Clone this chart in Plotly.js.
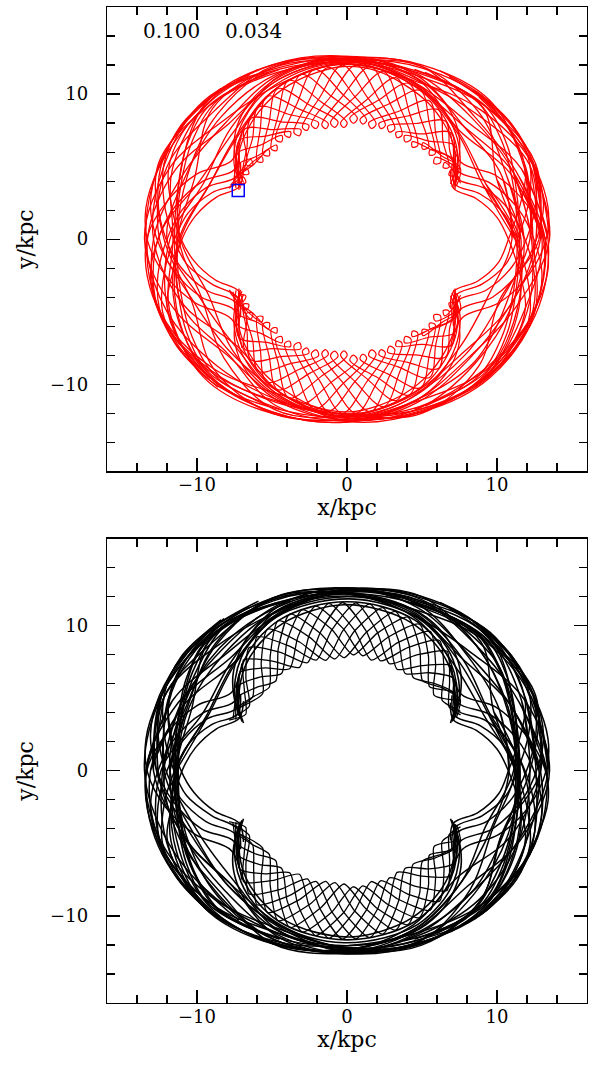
<!DOCTYPE html>
<html>
<head>
<meta charset="utf-8">
<script src="https://cdn.plot.ly/plotly-3.0.1.min.js"></script>
<style>
html,body{margin:0;padding:0;background:#fff}
#chart{width:592px;height:1069px}
</style>
</head>
<body>
<div id="chart"></div>
<script>
// Orbit polylines in kpc. Each entry is one stroke: [x0, y0, x1, y1, ...].

// ---- upper panel (red orbit) ----
const redRings = [
  [11.2,0, 9.06,3.75, 7.35,7.35, 4.44,10.72, 0,12.1, -4.83,11.64, -9.47,9.47, -12.47,5.17, -13.4,0, -12.01,-4.98, -8.70,-8.70, -4.60,-11.09, 0,-12.2, 4.86,-11.73, 9.33,-9.33, 11.46,-4.75, 11.2,0, 9.06,3.75],
  [13.5,0, 12.38,5.13, 8.91,8.91, 4.52,10.90, 0,12.1, -4.40,10.63, -7.28,7.28, -9.15,3.79, -11.1,0, -11.37,-4.71, -9.33,-9.33, -4.94,-11.92, 0,-12.6, 4.60,-11.09, 8.13,-8.13, 11.27,-4.67, 13.5,0, 12.38,5.13],
  [12.4,0, 11.83,4.90, 9.54,9.54, 4.98,12.01, 0,12.5, -4.71,11.37, -8.41,8.41, -10.72,4.44, -12.0,0, -9.79,-4.06, -7.42,-7.42, -4.48,-10.81, 0,-12.3, 4.94,-11.92, 9.54,-9.54, 12.47,-5.17, 12.4,0, 11.83,4.90],
  [11.0,0, 10.35,4.29, 7.78,7.78, 4.67,11.27, 0,12.6, -4.98,12.01, -9.33,9.33, -11.64,4.83, -11.6,0, -11.83,-4.90, -9.54,-9.54, -4.98,-12.01, 0,-12.4, 4.48,-10.81, 7.49,-7.49, 9.42,-3.91, 11.0,0, 10.35,4.29],
  [13.2,0, 11.27,4.67, 8.48,8.48, 4.94,11.92, 0,12.4, -4.56,11.00, -7.92,7.92, -11.46,4.75, -13.3,0, -12.38,-5.13, -8.91,-8.91, -4.44,-10.72, 0,-12.1, 4.79,-11.55, 9.05,-9.05, 12.38,-5.13, 13.2,0, 11.27,4.67],
  [11.6,0, 9.98,4.14, 9.05,9.05, 4.75,11.46, 0,12.3, -4.90,11.83, -8.98,8.98, -10.16,4.21, -11.3,0, -11.00,-4.56, -7.92,-7.92, -4.75,-11.46, 0,-12.5, 4.60,-11.09, 8.48,-8.48, 10.63,-4.40, 11.6,0, 9.98,4.14],
  [12.8,0, 12.57,5.21, 9.19,9.19, 4.67,11.27, 0,12.5, -4.63,11.18, -7.49,7.49, -9.79,4.06, -12.6,0, -12.47,-5.17, -9.05,-9.05, -4.67,-11.27, 0,-12.1, 4.98,-12.01, 8.77,-8.77, 10.16,-4.21, 12.8,0, 12.57,5.21],
  [13.0,0, 11.09,4.60, 7.78,7.78, 4.40,10.63, 0,12.3, -4.94,11.92, -8.84,8.84, -12.01,4.98, -12.5,0, -10.26,-4.25, -7.78,-7.78, -4.40,-10.63, 0,-12.55, 4.94,-11.92, 9.33,-9.33, 11.83,-4.90, 13.0,0, 11.09,4.60],
  [12.2,0, 11.92,4.94, 9.40,9.40, 4.90,11.83, 0,12.3, -4.56,11.00, -7.71,7.71, -9.52,3.94, -11.8,0, -11.92,-4.94, -9.47,-9.47, -4.83,-11.64, 0,-12.2, 4.44,-10.72, 7.92,-7.92, 10.26,-4.25, 12.2,0, 11.92,4.94],
  [13.4,0, 11.64,4.83, 8.06,8.06, 4.48,10.81, 0,12.45, -4.86,11.73, -9.54,9.54, -12.20,5.06, -12.9,0, -10.90,-4.52, -7.35,-7.35, -4.40,-10.63, 0,-12.35, 4.90,-11.83, 9.40,-9.40, 12.57,-5.21, 13.4,0, 11.64,4.83],
  [11.8,0, 10.63,4.40, 8.77,8.77, 4.94,11.92, 0,12.2, -4.44,10.72, -8.20,8.20, -11.83,4.90, -13.5,0, -11.55,-4.79, -7.99,-7.99, -4.56,-11.00, 0,-12.5, 4.83,-11.64, 8.55,-8.55, 11.00,-4.56, 11.8,0, 10.63,4.40],
  [12.6,0, 12.20,5.06, 8.63,8.63, 4.56,11.00, 0,12.55, -4.90,11.83, -8.63,8.63, -10.63,4.40, -11.2,0, -9.70,-4.02, -8.20,-8.20, -4.86,-11.73, 0,-12.2, 4.40,-10.63, 7.78,-7.78, 10.90,-4.52, 12.6,0, 12.20,5.06],
  [13.1,0, 10.90,4.52, 7.49,7.49, 4.60,11.09, 0,12.2, -4.75,11.46, -9.19,9.19, -12.57,5.21, -12.2,0, -10.35,-4.29, -8.91,-8.91, -4.98,-12.01, 0,-12.4, 4.63,-11.18, 9.12,-9.12, 12.38,-5.13, 13.1,0, 10.90,4.52],
  [11.4,0, 9.24,3.83, 7.42,7.42, 4.48,10.81, 0,12.4, -4.98,12.01, -9.40,9.40, -11.09,4.60, -11.1,0, -9.24,-3.83, -7.64,-7.64, -4.52,-10.90, 0,-12.3, 4.94,-11.92, 9.26,-9.26, 11.37,-4.71, 11.4,0, 9.24,3.83],
  [12.9,0, 12.38,5.13, 9.19,9.19, 4.79,11.55, 0,12.2, -4.40,10.63, -7.21,7.21, -9.15,3.79, -11.2,0, -11.46,-4.75, -9.26,-9.26, -4.94,-11.92, 0,-12.6, 4.67,-11.27, 8.20,-8.20, 10.90,-4.52, 12.9,0, 12.38,5.13],
  [12.3,0, 11.09,4.60, 8.34,8.34, 4.71,11.37, 0,12.6, -4.67,11.27, -8.06,8.06, -10.90,4.52, -12.9,0, -12.47,-5.17, -9.12,-9.12, -4.63,-11.18, 0,-12.05, 4.86,-11.73, 9.47,-9.47, 12.01,-4.98, 12.3,0, 11.09,4.60]
];

const redSideArcs = [
  [-4.5,11.7, -8.6,9.6, -10.3,6.8, -11.1,3.6, -11.35,0, -11.1,-3.6, -10.3,-6.8, -8.6,-9.6, -4.5,-11.7],
  [-5.2,11.5, -9.2,9.2, -10.7,6.4, -11.3,3.3, -11.5,0.1, -11.3,-3.3, -10.7,-6.4, -9.2,-9.2, -5.2,-11.5],
  [4.5,11.7, 8.6,9.6, 10.3,6.8, 11.1,3.6, 11.35,0, 11.1,-3.6, 10.3,-6.8, 8.6,-9.6, 4.5,-11.7],
  [5.2,11.5, 9.2,9.2, 10.7,6.4, 11.3,3.3, 11.5,-0.1, 11.3,-3.3, 10.7,-6.4, 9.2,-9.2, 5.2,-11.5]
];

const redCaustics = [
  [-7.1,3.5, -7.35,4.8, -7.3,6.4, -6.7,8.0, -5.6,9.6, -4.1,10.8, -2.2,11.7, 0,12.05, 2.2,11.7, 4.1,10.8, 5.6,9.6, 6.7,8.0, 7.3,6.4, 7.35,4.8, 7.1,3.5],
  [-7.0,3.7, -7.5,5.0, -7.45,6.6, -6.9,8.2, -5.8,9.8, -4.2,11.0, -2.2,11.85, 0.3,12.2, 2.4,11.8, 4.3,10.9, 5.8,9.7, 6.9,8.1, 7.45,6.5, 7.5,4.9, 7.0,3.6],
  [-7.2,3.4, -7.25,4.6, -7.15,6.2, -6.5,7.8, -5.4,9.35, -3.9,10.6, -2.0,11.5, -0.2,11.9, 2.0,11.6, 3.9,10.6, 5.4,9.4, 6.5,7.9, 7.15,6.3, 7.25,4.7, 7.2,3.4],
  [-6.9,3.9, -7.4,5.4, -7.5,7.0, -7.0,8.6, -5.9,10.1, -4.3,11.3, -2.3,12.1, 0,12.4, 2.5,12.05, 4.5,11.2, 6.0,10.0, 7.05,8.5, 7.5,6.9, 7.4,5.3, 6.9,3.8],
  [-7.1,-3.5, -7.35,-4.8, -7.3,-6.4, -6.7,-8.0, -5.6,-9.6, -4.1,-10.8, -2.2,-11.7, 0,-12.05, 2.2,-11.7, 4.1,-10.8, 5.6,-9.6, 6.7,-8.0, 7.3,-6.4, 7.35,-4.8, 7.1,-3.5],
  [-7.0,-3.6, -7.5,-4.9, -7.45,-6.5, -6.9,-8.1, -5.8,-9.7, -4.3,-10.9, -2.4,-11.8, -0.3,-12.2, 2.2,-11.85, 4.2,-11.0, 5.8,-9.8, 6.9,-8.2, 7.45,-6.6, 7.5,-5.0, 7.0,-3.7],
  [-7.2,-3.4, -7.25,-4.7, -7.15,-6.3, -6.5,-7.9, -5.4,-9.4, -3.9,-10.6, -2.0,-11.6, 0.2,-11.9, 2.0,-11.5, 3.9,-10.6, 5.4,-9.35, 6.5,-7.8, 7.15,-6.2, 7.25,-4.6, 7.2,-3.4],
  [-6.9,-3.8, -7.4,-5.3, -7.5,-6.9, -7.05,-8.5, -6.0,-10.0, -4.5,-11.2, -2.5,-12.05, 0,-12.4, 2.3,-12.1, 4.3,-11.3, 5.9,-10.1, 7.0,-8.6, 7.5,-7.0, 7.4,-5.4, 6.9,-3.9]
];

// epicycle strands with retrograde loops at pericentre
const redLoopStrands = [
  [-7.86,3.50, -6.93,4.29, -6.75,3.90, -7.18,3.86, -6.68,5.41, -6.82,7.58, -4.91,7.55, -3.08,7.55, -3.17,7.13, -3.54,7.35, -2.55,9.52, -1.25,11.84, 0.51,9.84, 1.94,7.92, 1.62,7.63, 1.45,8.02, 3.37,8.78, 5.50,9.53, 5.91,7.30, 6.23,5.27, 5.80,5.22, 5.89,5.64, 7.47,4.85],
  [-7.36,4.25, -6.41,5.50, -6.29,5.09, -6.72,5.13, -6.29,6.98, -5.91,9.10, -3.83,8.59, -1.90,8.03, -2.05,7.63, -2.38,7.90, -1.04,9.90, 0.62,11.99, 2.07,9.73, 3.19,7.62, 2.83,7.38, 2.72,7.80, 4.60,7.97, 6.57,8.12, 6.84,6.15, 7.23,4.39, 6.80,4.41, 6.96,4.81, 7.57,3.86],
  [-7.45,4.30, -6.29,5.09, -5.23,6.19, -5.18,5.76, -5.60,5.85, -5.20,8.01, -4.62,10.37, -2.47,9.23, -0.60,8.08, -0.81,7.71, -1.10,8.03, 0.51,9.79, 2.45,11.54, 3.51,9.15, 4.27,6.89, 3.88,6.71, 3.84,7.14, 5.47,6.76, 7.17,6.46, 7.38,4.80, 7.22,3.68],
  [-7.19,4.15, -7.30,5.91, -5.82,6.46, -4.34,7.14, -4.36,6.71, -4.76,6.87, -4.03,9.05, -3.04,11.35, -1.04,9.85, 0.69,8.33, 0.42,7.99, 0.19,8.35, 2.03,9.54, 4.12,10.74, 4.88,8.44, 5.44,6.33, 5.03,6.22, 5.06,6.65, 6.35,5.72, 7.55,4.91, 7.31,3.72],
  [-7.77,3.71, -6.67,4.85, -6.55,4.50, -6.92,4.49, -6.67,6.33, -6.39,8.33, -4.39,8.09, -2.55,7.86, -2.66,7.50, -2.97,7.71, -1.81,9.78, -0.31,12.0, 1.30,9.86, 2.56,7.85, 2.26,7.62, 2.13,7.97, 4.05,8.49, 6.11,8.90, 6.40,6.74, 6.79,4.94, 6.42,4.93, 6.52,5.29, 7.56,4.10],
  [-7.40,3.53, -7.37,5.07, -6.02,5.71, -4.70,6.48, -4.69,6.11, -5.05,6.21, -4.60,8.48, -3.87,10.94, -1.76,9.49, 0.01,8.01, -0.20,7.70, -0.43,7.99, 1.26,9.56, 3.29,11.12, 4.16,8.71, 4.71,6.46, 4.36,6.34, 4.35,6.71, 5.78,6.09, 7.14,5.48, 7.21,3.91],
  [-7.59,3.62, -7.42,5.09, -7.18,6.81, -5.45,7.10, -3.77,7.40, -3.82,7.03, -4.16,7.19, -3.32,9.38, -2.17,11.70, -0.26,9.95, 1.31,8.20, 1.05,7.93, 0.87,8.26, 2.75,9.30, 4.89,10.25, 5.49,7.99, 5.87,5.87, 5.50,5.80, 5.55,6.17, 7.06,5.42, 7.30,3.96],
  [-7.36,4.25, -5.69,5.70, -5.62,5.33, -5.99,5.38, -5.79,7.53, -5.34,9.84, -3.17,8.96, -1.25,7.96, -1.41,7.62, -1.68,7.88, -0.26,9.90, 1.57,11.89, 2.81,9.49, 3.67,7.18, 3.34,7.00, 3.27,7.37, 4.98,7.25, 6.95,7.32, 7.14,5.48, 7.12,3.86],
  [-7.86,-3.50, -6.93,-4.29, -6.75,-3.90, -7.18,-3.86, -6.68,-5.41, -6.82,-7.58, -4.91,-7.55, -3.08,-7.55, -3.17,-7.13, -3.54,-7.35, -2.55,-9.52, -1.25,-11.84, 0.51,-9.84, 1.94,-7.92, 1.62,-7.63, 1.45,-8.02, 3.37,-8.78, 5.50,-9.53, 5.91,-7.30, 6.23,-5.27, 5.80,-5.22, 5.89,-5.64, 7.47,-4.85],
  [-7.36,-4.25, -6.41,-5.50, -6.29,-5.09, -6.72,-5.13, -6.29,-6.98, -5.91,-9.10, -3.83,-8.59, -1.90,-8.03, -2.05,-7.63, -2.38,-7.90, -1.04,-9.90, 0.62,-11.99, 2.07,-9.73, 3.19,-7.62, 2.83,-7.38, 2.72,-7.80, 4.60,-7.97, 6.57,-8.12, 6.84,-6.15, 7.23,-4.39, 6.80,-4.41, 6.96,-4.81, 7.57,-3.86],
  [-7.45,-4.30, -6.29,-5.09, -5.23,-6.19, -5.18,-5.76, -5.60,-5.85, -5.20,-8.01, -4.62,-10.37, -2.47,-9.23, -0.60,-8.08, -0.81,-7.71, -1.10,-8.03, 0.51,-9.79, 2.45,-11.54, 3.51,-9.15, 4.27,-6.89, 3.88,-6.71, 3.84,-7.14, 5.47,-6.76, 7.17,-6.46, 7.38,-4.80, 7.22,-3.68],
  [-7.19,-4.15, -7.30,-5.91, -5.82,-6.46, -4.34,-7.14, -4.36,-6.71, -4.76,-6.87, -4.03,-9.05, -3.04,-11.35, -1.04,-9.85, 0.69,-8.33, 0.42,-7.99, 0.19,-8.35, 2.03,-9.54, 4.12,-10.74, 4.88,-8.44, 5.44,-6.33, 5.03,-6.22, 5.06,-6.65, 6.35,-5.72, 7.55,-4.91, 7.31,-3.72],
  [-7.77,-3.71, -6.67,-4.85, -6.55,-4.50, -6.92,-4.49, -6.67,-6.33, -6.39,-8.33, -4.39,-8.09, -2.55,-7.86, -2.66,-7.50, -2.97,-7.71, -1.81,-9.78, -0.31,-12.0, 1.30,-9.86, 2.56,-7.85, 2.26,-7.62, 2.13,-7.97, 4.05,-8.49, 6.11,-8.90, 6.40,-6.74, 6.79,-4.94, 6.42,-4.93, 6.52,-5.29, 7.56,-4.10],
  [-7.40,-3.53, -7.37,-5.07, -6.02,-5.71, -4.70,-6.48, -4.69,-6.11, -5.05,-6.21, -4.60,-8.48, -3.87,-10.94, -1.76,-9.49, 0.01,-8.01, -0.20,-7.70, -0.43,-7.99, 1.26,-9.56, 3.29,-11.12, 4.16,-8.71, 4.71,-6.46, 4.36,-6.34, 4.35,-6.71, 5.78,-6.09, 7.14,-5.48, 7.21,-3.91],
  [-7.59,-3.62, -7.42,-5.09, -7.18,-6.81, -5.45,-7.10, -3.77,-7.40, -3.82,-7.03, -4.16,-7.19, -3.32,-9.38, -2.17,-11.70, -0.26,-9.95, 1.31,-8.20, 1.05,-7.93, 0.87,-8.26, 2.75,-9.30, 4.89,-10.25, 5.49,-7.99, 5.87,-5.87, 5.50,-5.80, 5.55,-6.17, 7.06,-5.42, 7.30,-3.96],
  [-7.36,-4.25, -5.69,-5.70, -5.62,-5.33, -5.99,-5.38, -5.79,-7.53, -5.34,-9.84, -3.17,-8.96, -1.25,-7.96, -1.41,-7.62, -1.68,-7.88, -0.26,-9.90, 1.57,-11.89, 2.81,-9.49, 3.67,-7.18, 3.34,-7.00, 3.27,-7.37, 4.98,-7.25, 6.95,-7.32, 7.14,-5.48, 7.12,-3.86]
];

// arcs leaving the four cusps and sweeping round the ends of the ring (both panels)
const cuspArcs = [
  [-6.9,4.8, -7.2,3.6, -8.7,2.9, -10.1,1.6, -11.0,0, -11.6,-2.2, -12.0,-4.6, -11.2,-7.0, -9.3,-9.4, -7.0,-11.0],
  [-7.1,5.3, -7.3,3.9, -9.0,3.2, -10.6,1.8, -11.5,0, -12.2,-2.4, -12.3,-5.0, -11.2,-7.4, -9.1,-9.6],
  [-7.2,5.9, -7.4,4.3, -9.3,3.6, -11.0,2.0, -12.0,0, -12.6,-2.4, -12.5,-4.8, -11.4,-7.3, -9.3,-9.6],
  [-7.2,6.6, -7.5,4.8, -9.6,4.0, -11.5,2.2, -12.6,0, -13.1,-2.4, -12.6,-4.9, -11.0,-7.8, -8.6,-10.2],
  [-7.0,7.4, -7.7,5.4, -10.0,4.5, -12.0,2.6, -13.3,0.2, -13.4,-2.0, -12.7,-4.6, -11.3,-7.0, -9.2,-9.5],
  [-6.9,-4.9, -7.2,-3.6, -8.8,-2.8, -10.2,-1.5, -11.1,0.1, -11.7,2.3, -11.9,4.8, -11.0,7.3, -9.0,9.6, -6.5,11.3],
  [-7.1,-5.4, -7.3,-4.0, -9.0,-3.1, -10.7,-1.7, -11.6,0.2, -12.2,2.6, -12.2,5.2, -11.1,7.8, -8.8,10.0, -5.9,11.7],
  [-7.2,-6.0, -7.4,-4.4, -9.4,-3.5, -11.1,-1.9, -12.1,0.1, -12.6,2.6, -12.3,5.4, -10.9,8.0, -8.4,10.4],
  [-7.2,-6.7, -7.5,-4.9, -9.7,-4.0, -11.6,-2.1, -12.7,0.1, -13.1,2.5, -12.5,5.2, -10.8,8.0, -8.2,10.5],
  [-7.0,-7.5, -7.7,-5.5, -10.1,-4.4, -12.1,-2.5, -13.3,-0.1, -13.4,2.2, -12.6,4.8, -11.0,7.4, -8.8,9.8],
  [6.9,4.7, 7.1,3.5, 8.6,2.8, 10.0,1.5, 10.8,-0.1, 11.5,-2.3, 11.9,-4.7, 11.1,-7.1, 9.2,-9.5, 6.9,-11.1],
  [7.0,5.2, 7.2,3.8, 8.9,3.1, 10.5,1.7, 11.3,-0.1, 12.0,-2.5, 12.2,-5.1, 11.3,-7.5, 9.2,-9.7],
  [7.1,5.8, 7.3,4.2, 9.2,3.5, 10.9,1.9, 11.9,-0.1, 12.5,-2.5, 12.4,-4.9, 11.3,-7.3, 9.2,-9.6],
  [7.1,6.5, 7.4,4.7, 9.5,3.9, 11.4,2.1, 12.5,-0.1, 13.0,-2.5, 12.5,-5.0, 10.9,-7.9, 8.5,-10.2],
  [6.9,7.3, 7.6,5.3, 9.9,4.4, 11.9,2.5, 13.2,0.1, 13.4,-2.1, 12.6,-4.7, 11.2,-7.2, 9.1,-9.6],
  [6.9,-4.8, 7.1,-3.6, 8.7,-2.9, 10.1,-1.6, 10.8,0.1, 11.5,2.2, 11.9,4.6, 11.1,7.1, 9.2,9.5, 6.8,11.2],
  [7.0,-5.4, 7.2,-3.9, 9.0,-3.1, 10.6,-1.7, 11.4,0.1, 12.1,2.5, 12.2,5.1, 11.2,7.6, 9.0,9.9, 6.2,11.6],
  [7.1,-6.0, 7.3,-4.3, 9.3,-3.5, 11.0,-1.9, 12.0,0.1, 12.6,2.6, 12.4,5.2, 11.0,7.9, 8.6,10.2],
  [7.1,-6.7, 7.5,-4.9, 9.7,-4.0, 11.6,-2.1, 12.7,0.2, 13.1,2.5, 12.5,5.1, 10.9,7.9, 8.4,10.3],
  [6.9,-7.4, 7.7,-5.4, 10.1,-4.4, 12.1,-2.5, 13.3,0.1, 13.4,2.2, 12.6,4.8, 11.0,7.4, 8.8,9.8]
];

// ---- lower panel (black orbit) ----
const blackRings = [
  [11.3,0, 9.42,3.91, 7.49,7.49, 4.52,10.90, 0,12.2, -4.79,11.55, -9.40,9.40, -12.38,5.13, -13.5,0, -11.92,-4.94, -8.77,-8.77, -4.63,-11.18, 0,-12.3, 4.90,-11.83, 9.26,-9.26, 11.37,-4.71, 11.3,0, 9.42,3.91],
  [13.4,0, 12.29,5.09, 9.05,9.05, 4.60,11.09, 0,12.0, -4.48,10.81, -7.49,7.49, -9.33,3.87, -11.4,0, -11.55,-4.79, -9.40,-9.40, -4.90,-11.83, 0,-12.5, 4.67,-11.27, 8.34,-8.34, 11.46,-4.75, 13.4,0, 12.29,5.09],
  [12.6,0, 11.92,4.94, 9.47,9.47, 4.94,11.92, 0,12.5, -4.67,11.27, -8.48,8.48, -10.90,4.52, -11.8,0, -9.98,-4.14, -7.56,-7.56, -4.56,-11.00, 0,-12.4, 4.90,-11.83, 9.47,-9.47, 12.29,-5.09, 12.6,0, 11.92,4.94],
  [10.8,0, 10.16,4.21, 7.99,7.99, 4.75,11.46, 0,12.6, -4.94,11.92, -9.26,9.26, -11.83,4.90, -11.5,0, -11.73,-4.86, -9.47,-9.47, -4.94,-11.92, 0,-12.3, 4.52,-10.90, 7.64,-7.64, 9.61,-3.98, 10.8,0, 10.16,4.21],
  [13.3,0, 11.46,4.75, 8.63,8.63, 4.86,11.73, 0,12.3, -4.52,10.90, -7.78,7.78, -11.27,4.67, -13.4,0, -12.29,-5.09, -8.84,-8.84, -4.52,-10.90, 0,-12.2, 4.83,-11.64, 9.12,-9.12, 12.47,-5.17, 13.3,0, 11.46,4.75],
  [11.5,0, 9.79,4.06, 8.91,8.91, 4.79,11.55, 0,12.4, -4.86,11.73, -9.12,9.12, -10.35,4.29, -11.4,0, -10.81,-4.48, -7.78,-7.78, -4.71,-11.37, 0,-12.6, 4.63,-11.18, 8.34,-8.34, 10.44,-4.33, 11.5,0, 9.79,4.06],
  [12.9,0, 12.47,5.17, 9.12,9.12, 4.71,11.37, 0,12.6, -4.67,11.27, -7.64,7.64, -9.61,3.98, -12.4,0, -12.38,-5.13, -9.12,-9.12, -4.75,-11.46, 0,-12.2, 4.94,-11.92, 8.91,-8.91, 10.35,-4.29, 12.9,0, 12.47,5.17],
  [12.8,0, 10.90,4.52, 7.71,7.71, 4.48,10.81, 0,12.2, -4.90,11.83, -8.91,8.91, -12.20,5.06, -12.7,0, -10.44,-4.33, -7.92,-7.92, -4.48,-10.81, 0,-12.5, 4.90,-11.83, 9.40,-9.40, 11.92,-4.94, 12.8,0, 10.90,4.52],
  [12.2,0, 11.64,4.83, 9.33,9.33, 4.83,11.64, 0,12.45, -4.60,11.09, -8.13,8.13, -10.53,4.37, -11.3,0, -10.72,-4.44, -8.63,-8.63, -4.83,-11.64, 0,-12.45, 4.71,-11.37, 8.84,-8.84, 11.46,-4.75, 12.2,0, 11.64,4.83],
  [11.4,0, 10.72,4.44, 8.63,8.63, 4.98,12.01, 0,12.55, -4.94,11.92, -8.70,8.70, -10.72,4.44, -12.2,0, -11.18,-4.63, -8.41,-8.41, -4.94,-11.92, 0,-12.6, 4.86,-11.73, 8.48,-8.48, 10.72,-4.44, 11.4,0, 10.72,4.44],
  [-12.2,0, -11.92,4.94, -9.40,9.40, -4.90,11.83, 0,12.3, 4.56,11.00, 7.71,7.71, 9.52,3.94, 11.8,0, 11.92,-4.94, 9.47,-9.47, 4.83,-11.64, 0,-12.2, -4.44,-10.72, -7.92,-7.92, -10.26,-4.25, -12.2,0, -11.92,4.94],
  [-13.4,0, -11.64,4.83, -8.06,8.06, -4.48,10.81, 0,12.45, 4.86,11.73, 9.54,9.54, 12.20,5.06, 12.9,0, 10.90,-4.52, 7.35,-7.35, 4.40,-10.63, 0,-12.35, -4.90,-11.83, -9.40,-9.40, -12.57,-5.21, -13.4,0, -11.64,4.83],
  [-11.8,0, -10.63,4.40, -8.77,8.77, -4.94,11.92, 0,12.2, 4.44,10.72, 8.20,8.20, 11.83,4.90, 13.5,0, 11.55,-4.79, 7.99,-7.99, 4.56,-11.00, 0,-12.5, -4.83,-11.64, -8.55,-8.55, -11.00,-4.56, -11.8,0, -10.63,4.40],
  [-12.6,0, -12.20,5.06, -8.63,8.63, -4.56,11.00, 0,12.55, 4.90,11.83, 8.63,8.63, 10.63,4.40, 11.2,0, 9.70,-4.02, 8.20,-8.20, 4.86,-11.73, 0,-12.2, -4.40,-10.63, -7.78,-7.78, -10.90,-4.52, -12.6,0, -12.20,5.06],
  [-13.1,0, -10.90,4.52, -7.49,7.49, -4.60,11.09, 0,12.2, 4.75,11.46, 9.19,9.19, 12.57,5.21, 12.2,0, 10.35,-4.29, 8.91,-8.91, 4.98,-12.01, 0,-12.4, -4.63,-11.18, -9.12,-9.12, -12.38,-5.13, -13.1,0, -10.90,4.52],
  [-11.4,0, -9.24,3.83, -7.42,7.42, -4.48,10.81, 0,12.4, 4.98,12.01, 9.40,9.40, 11.09,4.60, 11.1,0, 9.24,-3.83, 7.64,-7.64, 4.52,-10.90, 0,-12.3, -4.94,-11.92, -9.26,-9.26, -11.37,-4.71, -11.4,0, -9.24,3.83],
  [-12.9,0, -12.38,5.13, -9.19,9.19, -4.79,11.55, 0,12.2, 4.40,10.63, 7.21,7.21, 9.15,3.79, 11.2,0, 11.46,-4.75, 9.26,-9.26, 4.94,-11.92, 0,-12.6, -4.67,-11.27, -8.20,-8.20, -10.90,-4.52, -12.9,0, -12.38,5.13],
  [-12.3,0, -11.09,4.60, -8.34,8.34, -4.71,11.37, 0,12.6, 4.67,11.27, 8.06,8.06, 10.90,4.52, 12.9,0, 12.47,-5.17, 9.12,-9.12, 4.63,-11.18, 0,-12.05, -4.86,-11.73, -9.47,-9.47, -12.01,-4.98, -12.3,0, -11.09,4.60]
];

const blackSideArcs = [
  [-4.5,11.6, -8.6,9.6, -10.3,6.8, -11.1,3.6, -11.35,0, -11.1,-3.6, -10.3,-6.8, -8.6,-9.6, -4.5,-11.6],
  [-5.2,11.4, -9.2,9.2, -10.7,6.4, -11.3,3.3, -11.45,0, -11.3,-3.3, -10.7,-6.4, -9.2,-9.2, -5.2,-11.4],
  [-3.8,11.7, -7.9,10.2, -9.9,7.2, -11.0,3.9, -11.25,0.2, -11.05,-3.5, -10.2,-6.9, -8.3,-9.8, -4.2,-11.6],
  [-6.0,11.2, -9.6,8.6, -10.95,5.0, -11.5,1.5, -11.45,-1.8, -11.0,-4.8, -9.9,-7.6, -7.2,-10.3],
  [4.5,11.6, 8.6,9.6, 10.3,6.8, 11.1,3.6, 11.35,0, 11.1,-3.6, 10.3,-6.8, 8.6,-9.6, 4.5,-11.6],
  [5.2,11.4, 9.2,9.2, 10.7,6.4, 11.3,3.3, 11.45,0, 11.3,-3.3, 10.7,-6.4, 9.2,-9.2, 5.2,-11.4],
  [4.2,11.6, 8.3,9.8, 10.2,6.9, 11.05,3.5, 11.25,-0.2, 11.0,-3.9, 9.9,-7.2, 7.9,-10.2, 3.8,-11.7],
  [6.0,-11.2, 9.6,-8.6, 10.95,-5.0, 11.5,-1.5, 11.45,1.8, 11.0,4.8, 9.9,7.6, 7.2,10.3]
];

const blackCaustics = [
  [-7.0,3.4, -7.3,4.6, -7.3,6.0, -6.9,7.5, -6.0,9.0, -4.5,10.4, -2.4,11.3, 0,11.65, 2.4,11.3, 4.5,10.4, 6.0,9.0, 6.9,7.5, 7.3,6.0, 7.3,4.6, 7.0,3.4],
  [-7.1,3.6, -7.45,4.9, -7.45,6.3, -7.05,7.8, -6.2,9.2, -4.7,10.6, -2.5,11.5, 0.2,11.85, 2.6,11.45, 4.7,10.55, 6.2,9.15, 7.05,7.7, 7.45,6.2, 7.45,4.8, 7.1,3.5],
  [-6.9,3.3, -7.2,4.4, -7.15,5.8, -6.75,7.3, -5.8,8.8, -4.3,10.15, -2.3,11.05, -0.2,11.45, 2.2,11.1, 4.3,10.2, 5.8,8.85, 6.75,7.35, 7.15,5.9, 7.2,4.5, 6.9,3.3],
  [-7.2,3.8, -7.55,5.2, -7.6,6.6, -7.2,8.1, -6.4,9.5, -4.9,10.85, -2.7,11.75, 0,12.05, 2.7,11.75, 4.9,10.85, 6.4,9.5, 7.2,8.1, 7.6,6.6, 7.55,5.2, 7.2,3.8],
  [-7.0,-3.4, -7.3,-4.6, -7.3,-6.0, -6.9,-7.5, -6.0,-9.0, -4.5,-10.4, -2.4,-11.3, 0,-11.65, 2.4,-11.3, 4.5,-10.4, 6.0,-9.0, 6.9,-7.5, 7.3,-6.0, 7.3,-4.6, 7.0,-3.4],
  [-7.1,-3.5, -7.45,-4.8, -7.45,-6.2, -7.05,-7.7, -6.2,-9.15, -4.7,-10.55, -2.6,-11.45, -0.2,-11.85, 2.5,-11.5, 4.7,-10.6, 6.2,-9.2, 7.05,-7.8, 7.45,-6.3, 7.45,-4.9, 7.1,-3.6],
  [-6.9,-3.3, -7.2,-4.5, -7.15,-5.9, -6.75,-7.35, -5.8,-8.85, -4.3,-10.2, -2.2,-11.1, 0.2,-11.45, 2.3,-11.05, 4.3,-10.15, 5.8,-8.8, 6.75,-7.3, 7.15,-5.8, 7.2,-4.4, 6.9,-3.3],
  [-7.2,-3.8, -7.55,-5.2, -7.6,-6.6, -7.2,-8.1, -6.4,-9.5, -4.9,-10.85, -2.7,-11.75, 0,-12.05, 2.7,-11.75, 4.9,-10.85, 6.4,-9.5, 7.2,-8.1, 7.6,-6.6, 7.55,-5.2, 7.2,-3.8]
];

// epicycle strands turning in sharp cusps at pericentre
const blackCuspStrands = [
  [-7.86,3.50, -6.75,3.90, -6.84,5.54, -6.89,7.65, -4.91,7.55, -3.17,7.13, -2.51,9.37, -1.22,11.54, 0.50,9.69, 1.62,7.63, 3.38,8.83, 5.55,9.61, 5.91,7.30, 5.80,5.22, 7.47,4.85],
  [-7.36,4.25, -6.29,5.09, -6.22,6.91, -6.00,9.23, -3.83,8.59, -2.05,7.63, -1.02,9.70, 0.60,11.58, 2.03,9.54, 2.83,7.38, 4.60,7.97, 6.67,8.24, 6.84,6.15, 6.80,4.41, 7.57,3.86],
  [-7.45,4.30, -6.29,5.09, -5.18,5.76, -5.12,7.89, -4.60,10.33, -2.46,9.18, -0.81,7.71, 0.50,9.64, 2.39,11.25, 3.44,8.97, 3.88,6.71, 5.47,6.76, 7.10,6.39, 7.38,4.80, 7.22,3.68],
  [-7.19,4.15, -7.23,5.85, -5.82,6.46, -4.36,6.71, -3.99,8.96, -2.98,11.11, -1.03,9.75, 0.42,7.99, 2.02,9.49, 4.06,10.60, 4.85,8.40, 5.03,6.22, 6.35,5.72, 7.55,4.91, 7.31,3.72],
  [-7.68,3.66, -6.51,4.47, -6.74,6.40, -6.52,8.49, -4.44,8.17, -2.64,7.45, -1.77,9.56, -0.30,11.6, 1.27,9.64, 2.24,7.58, 4.05,8.49, 6.17,8.98, 6.47,6.82, 6.34,4.87, 7.56,4.10],
  [-7.40,3.53, -7.33,5.04, -6.05,5.74, -4.75,6.19, -4.58,8.44, -3.82,10.80, -1.75,9.44, -0.20,7.80, 1.26,9.51, 3.25,10.98, 4.14,8.67, 4.41,6.43, 5.74,6.05, 7.06,5.42, 7.21,3.91],
  [-7.59,3.62, -7.42,5.09, -7.14,6.78, -5.45,7.10, -3.82,7.03, -3.27,9.24, -2.10,11.35, -0.25,9.80, 1.05,7.93, 2.73,9.21, 4.83,10.11, 5.43,7.91, 5.50,5.80, 7.06,5.42, 7.30,3.96],
  [-7.36,4.25, -5.62,5.33, -5.72,7.45, -5.29,9.76, -3.14,8.86, -1.41,7.62, -0.25,9.70, 1.52,11.50, 2.75,9.30, 3.34,7.00, 4.98,7.25, 6.88,7.25, 7.14,5.48, 7.12,3.86],
  [-7.86,-3.50, -6.75,-3.90, -6.84,-5.54, -6.89,-7.65, -4.91,-7.55, -3.17,-7.13, -2.51,-9.37, -1.22,-11.54, 0.50,-9.69, 1.62,-7.63, 3.38,-8.83, 5.55,-9.61, 5.91,-7.30, 5.80,-5.22, 7.47,-4.85],
  [-7.36,-4.25, -6.29,-5.09, -6.22,-6.91, -6.00,-9.23, -3.83,-8.59, -2.05,-7.63, -1.02,-9.70, 0.60,-11.58, 2.03,-9.54, 2.83,-7.38, 4.60,-7.97, 6.67,-8.24, 6.84,-6.15, 6.80,-4.41, 7.57,-3.86],
  [-7.45,-4.30, -6.29,-5.09, -5.18,-5.76, -5.12,-7.89, -4.60,-10.33, -2.46,-9.18, -0.81,-7.71, 0.50,-9.64, 2.39,-11.25, 3.44,-8.97, 3.88,-6.71, 5.47,-6.76, 7.10,-6.39, 7.38,-4.80, 7.22,-3.68],
  [-7.19,-4.15, -7.23,-5.85, -5.82,-6.46, -4.36,-6.71, -3.99,-8.96, -2.98,-11.11, -1.03,-9.75, 0.42,-7.99, 2.02,-9.49, 4.06,-10.60, 4.85,-8.40, 5.03,-6.22, 6.35,-5.72, 7.55,-4.91, 7.31,-3.72],
  [-7.68,-3.66, -6.51,-4.47, -6.74,-6.40, -6.52,-8.49, -4.44,-8.17, -2.64,-7.45, -1.77,-9.56, -0.30,-11.6, 1.27,-9.64, 2.24,-7.58, 4.05,-8.49, 6.17,-8.98, 6.47,-6.82, 6.34,-4.87, 7.56,-4.10],
  [-7.40,-3.53, -7.33,-5.04, -6.05,-5.74, -4.75,-6.19, -4.58,-8.44, -3.82,-10.80, -1.75,-9.44, -0.20,-7.80, 1.26,-9.51, 3.25,-10.98, 4.14,-8.67, 4.41,-6.43, 5.74,-6.05, 7.06,-5.42, 7.21,-3.91],
  [-7.59,-3.62, -7.42,-5.09, -7.14,-6.78, -5.45,-7.10, -3.82,-7.03, -3.27,-9.24, -2.10,-11.35, -0.25,-9.80, 1.05,-7.93, 2.73,-9.21, 4.83,-10.11, 5.43,-7.91, 5.50,-5.80, 7.06,-5.42, 7.30,-3.96],
  [-7.36,-4.25, -5.62,-5.33, -5.72,-7.45, -5.29,-9.76, -3.14,-8.86, -1.41,-7.62, -0.25,-9.70, 1.52,-11.50, 2.75,-9.30, 3.34,-7.00, 4.98,-7.25, 6.88,-7.25, 7.14,-5.48, 7.12,-3.86]
];

// starting point marker and run parameters printed in the upper panel
const startX = [-7.25];
const startY = [3.35];
const runLabels = ['0.100', '0.034'];
const runLabelX = [-11.7, -6.25];
const runLabelY = [14.35, 14.35];

const FONT = 'DejaVu Serif';

function strokes(segs) {
  const x = [], y = [];
  for (const s of segs) {
    for (let i = 0; i < s.length; i += 2) { x.push(s[i]); y.push(s[i + 1]); }
    x.push(null); y.push(null);
  }
  return {x, y};
}

function lineTrace(segs, color, width, xa, ya, smoothing) {
  const p = strokes(segs);
  return {
    type: 'scatter', mode: 'lines', x: p.x, y: p.y, xaxis: xa, yaxis: ya,
    line: {color: color, width: width, shape: 'spline', smoothing: smoothing},
    connectgaps: false, hoverinfo: 'skip', showlegend: false
  };
}

const RED = '#ff0000';
const BLK = '#000000';

const traces = [
  lineTrace(redRings, RED, 1.3, 'x', 'y', 1),
  lineTrace(redSideArcs, RED, 1.3, 'x', 'y', 1),
  lineTrace(cuspArcs, RED, 1.3, 'x', 'y', 1),
  lineTrace(redCaustics, RED, 1.3, 'x', 'y', 1),
  lineTrace(redLoopStrands, RED, 1.2, 'x', 'y', 1),
  {
    type: 'scatter', mode: 'markers', x: startX, y: startY, xaxis: 'x', yaxis: 'y',
    marker: {symbol: 'square-open', size: 12, color: '#0000ff', line: {width: 1.5, color: '#0000ff'}},
    hoverinfo: 'skip', showlegend: false
  },
  lineTrace(blackRings, BLK, 1.5, 'x2', 'y2', 1),
  lineTrace(blackSideArcs, BLK, 1.6, 'x2', 'y2', 1),
  lineTrace(cuspArcs, BLK, 1.5, 'x2', 'y2', 1),
  lineTrace(blackCaustics, BLK, 1.6, 'x2', 'y2', 1),
  lineTrace(blackCuspStrands, BLK, 1.3, 'x2', 'y2', 0.6)
];

function axis(extra) {
  return Object.assign({
    range: [-16, 16], autorange: false, showgrid: false, zeroline: false,
    showline: true, linecolor: '#000', linewidth: 1.3, mirror: 'allticks',
    ticks: 'inside', ticklen: 13, tickwidth: 1.2, tickcolor: '#000',
    tick0: 0, dtick: 10,
    minor: {dtick: 2, tick0: 0, ticks: 'inside', ticklen: 8, tickwidth: 1.2, tickcolor: '#000', showgrid: false},
    tickfont: {family: FONT, size: 18, color: '#000'},
    fixedrange: true
  }, extra);
}

const titleFont = {family: FONT, size: 22, color: '#000'};

const layout = {
  width: 592, height: 1069,
  margin: {l: 107, r: 5, t: 7, b: 66, pad: 0},
  paper_bgcolor: '#fff', plot_bgcolor: '#fff',
  showlegend: false,
  xaxis: axis({domain: [0, 1], anchor: 'y', ticklabelstandoff: -3, title: {text: 'x/kpc', font: titleFont, standoff: 0}}),
  yaxis: axis({domain: [0.5338, 1], anchor: 'x', ticklabelstandoff: 14, title: {text: 'y/kpc', font: titleFont, standoff: 10}}),
  xaxis2: axis({domain: [0, 1], anchor: 'y2', ticklabelstandoff: -3, title: {text: 'x/kpc', font: titleFont, standoff: 0}}),
  yaxis2: axis({domain: [0, 0.4662], anchor: 'x2', ticklabelstandoff: 14, title: {text: 'y/kpc', font: titleFont, standoff: 10}}),
  annotations: runLabels.map((t, i) => ({
    xref: 'x', yref: 'y', x: runLabelX[i], y: runLabelY[i], text: t, showarrow: false,
    xanchor: 'center', yanchor: 'middle', font: {family: FONT, size: 20, color: '#000'}
  }))
};

Plotly.newPlot('chart', traces, layout, {staticPlot: true, displayModeBar: false});
</script>
</body>
</html>
